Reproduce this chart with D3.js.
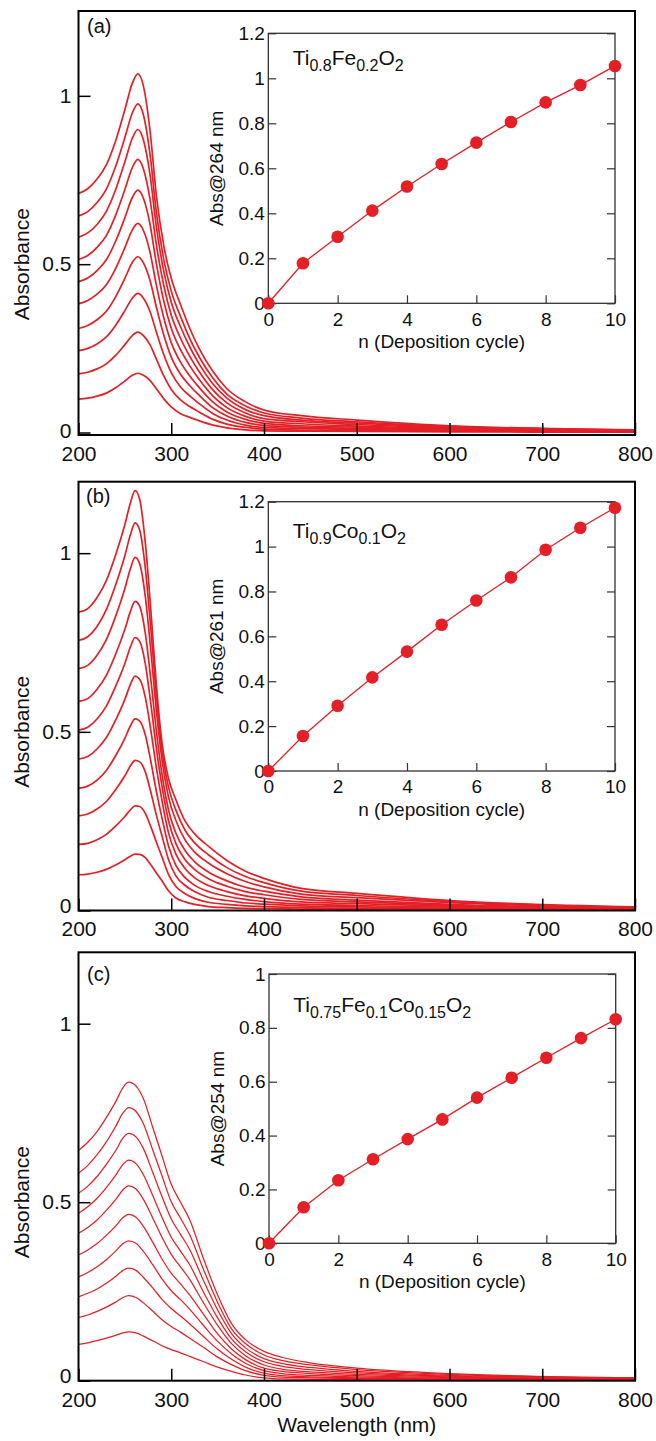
<!DOCTYPE html>
<html><head><meta charset="utf-8">
<script src="https://cdn.jsdelivr.net/npm/d3@7"></script>
<style>html,body{margin:0;padding:0;background:#fff;} svg{display:block;}</style>
</head><body>
<svg id="chart" width="656" height="1441"></svg>
<script>
// ---------------- DATA ----------------
const mainXTicks = [200, 300, 400, 500, 600, 700, 800];
const mainYTicks = [0, 0.5, 1];
const cycles = [0, 1, 2, 3, 4, 5, 6, 7, 8, 9, 10];
const insetXTicks = [0, 2, 4, 6, 8, 10];
const insetYTicks12 = [0, 0.2, 0.4, 0.6, 0.8, 1, 1.2];
const insetYTicks10 = [0, 0.2, 0.4, 0.6, 0.8, 1];

// (a) Ti0.8Fe0.2O2
const wavelengthsA = [200,210,220,230,240,250,258,264,270,277,284,292,300,310,320,330,345,360,380,400,440,500,600,800];
const spectraA = [
 [.099,.102,.108,.117,.133,.153,.170,.176,.170,.155,.130,.100,.076,.056,.045,.035,.022,.014,.008,.005,.004,.003,.002,.001],
 [.174,.179,.189,.204,.229,.261,.288,.298,.288,.261,.218,.168,.128,.097,.077,.061,.039,.025,.015,.010,.007,.006,.004,.002],
 [.243,.250,.263,.284,.318,.362,.399,.413,.399,.360,.298,.231,.178,.135,.109,.086,.056,.037,.022,.015,.012,.009,.005,.003],
 [.309,.318,.335,.360,.403,.458,.505,.522,.504,.453,.372,.289,.224,.173,.139,.111,.073,.049,.030,.021,.016,.012,.007,.003],
 [.382,.392,.411,.439,.487,.549,.602,.621,.600,.537,.437,.340,.267,.209,.168,.134,.090,.061,.039,.027,.020,.016,.009,.004],
 [.448,.459,.481,.513,.568,.638,.698,.720,.696,.620,.501,.390,.310,.246,.198,.158,.108,.074,.048,.034,.026,.019,.011,.004],
 [.514,.526,.550,.585,.645,.722,.787,.811,.783,.695,.557,.436,.349,.280,.226,.181,.126,.088,.058,.041,.032,.024,.013,.005],
 [.580,.593,.618,.657,.721,.804,.874,.900,.869,.768,.610,.478,.387,.314,.254,.204,.144,.102,.068,.050,.037,.028,.015,.006],
 [.643,.656,.683,.723,.790,.876,.949,.976,.943,.829,.653,.513,.420,.345,.279,.225,.161,.114,.079,.058,.043,.032,.018,.007],
 [.710,.724,.753,.795,.866,.959,1.037,1.065,1.029,.900,.703,.554,.458,.380,.309,.250,.181,.130,.091,.067,.050,.037,.020,.008]
];
const insetA = [0, 0.178, 0.296, 0.412, 0.519, 0.619, 0.714, 0.806, 0.893, 0.970, 1.055];
const formulaA = [["Ti",0],["0.8",1],["Fe",0],["0.2",1],["O",0],["2",1]];

// (b) Ti0.9Co0.1O2
const wavelengthsB = [200,210,220,230,240,250,256,261,266,272,278,284,290,297,305,315,325,340,360,380,400,440,500,600,800];
const spectraB = [
 [.100,.102,.107,.115,.127,.142,.152,.158,.157,.148,.128,.105,.083,.055,.035,.024,.017,.011,.008,.006,.005,.004,.003,.002,.001],
 [.185,.188,.198,.213,.236,.263,.282,.293,.291,.272,.234,.191,.150,.101,.067,.047,.034,.023,.017,.013,.011,.008,.006,.004,.002],
 [.265,.270,.284,.305,.338,.377,.405,.420,.416,.388,.331,.267,.209,.143,.097,.070,.053,.037,.028,.021,.018,.013,.010,.006,.003],
 [.342,.348,.365,.392,.433,.482,.517,.536,.530,.492,.417,.333,.259,.181,.126,.092,.071,.053,.040,.031,.025,.018,.014,.009,.003],
 [.424,.431,.452,.484,.533,.591,.633,.656,.647,.597,.504,.399,.308,.218,.158,.117,.092,.070,.053,.041,.034,.024,.019,.012,.004],
 [.505,.513,.536,.572,.627,.691,.738,.764,.753,.691,.578,.453,.348,.252,.187,.142,.115,.089,.068,.053,.044,.031,.024,.015,.005],
 [.585,.593,.619,.658,.717,.787,.837,.865,.851,.776,.646,.501,.382,.282,.216,.167,.137,.108,.083,.065,.054,.038,.029,.017,.006],
 [.677,.686,.714,.758,.823,.901,.957,.988,.970,.879,.727,.558,.423,.318,.252,.197,.164,.133,.103,.081,.066,.046,.036,.022,.008],
 [.756,.766,.795,.842,.911,.993,1.052,1.085,1.064,.959,.788,.597,.449,.346,.281,.224,.190,.156,.120,.095,.078,.054,.042,.025,.009],
 [.835,.845,.876,.923,.995,1.080,1.141,1.175,1.150,1.030,.840,.630,.470,.370,.310,.250,.215,.180,.140,.110,.090,.062,.048,.028,.010]
];
const insetB = [0, 0.156, 0.291, 0.417, 0.532, 0.652, 0.760, 0.863, 0.986, 1.084, 1.173];
const formulaB = [["Ti",0],["0.9",1],["Co",0],["0.1",1],["O",0],["2",1]];

// (c) Ti0.75Fe0.1Co0.15O2
const wavelengthsC = [200,210,220,230,240,248,254,262,270,280,290,300,310,320,335,350,365,380,400,420,450,500,600,800];
const spectraC = [
 [.102,.106,.112,.119,.127,.134,.137,.134,.125,.112,.098,.087,.078,.068,.053,.038,.026,.016,.008,.005,.004,.003,.002,.001],
 [.177,.184,.194,.206,.220,.233,.238,.233,.218,.195,.171,.152,.136,.119,.093,.066,.045,.028,.015,.010,.008,.006,.004,.002],
 [.235,.245,.257,.273,.292,.309,.315,.309,.289,.260,.228,.202,.181,.159,.123,.088,.060,.038,.021,.014,.011,.008,.005,.003],
 [.291,.303,.319,.339,.363,.384,.392,.385,.362,.325,.285,.252,.227,.200,.154,.110,.075,.049,.028,.020,.015,.011,.007,.003],
 [.352,.366,.384,.407,.433,.457,.466,.458,.432,.388,.341,.301,.271,.240,.185,.131,.089,.059,.035,.026,.020,.014,.009,.004],
 [.413,.429,.450,.477,.507,.535,.546,.537,.508,.456,.402,.354,.319,.283,.217,.155,.104,.070,.044,.032,.025,.018,.011,.005],
 [.469,.487,.511,.541,.575,.606,.618,.608,.577,.519,.458,.402,.363,.324,.247,.176,.117,.081,.053,.040,.031,.022,.013,.006],
 [.525,.545,.572,.606,.644,.680,.693,.683,.650,.584,.516,.453,.410,.367,.279,.198,.132,.092,.062,.048,.037,.026,.015,.007],
 [.581,.603,.633,.669,.712,.750,.765,.754,.720,.647,.574,.501,.455,.408,.310,.219,.145,.104,.072,.056,.044,.031,.018,.007],
 [.645,.668,.698,.737,.781,.821,.836,.825,.790,.710,.630,.550,.500,.450,.340,.240,.160,.115,.082,.065,.050,.035,.020,.008]
];
const insetC = [0, 0.134, 0.234, 0.312, 0.387, 0.460, 0.541, 0.615, 0.689, 0.762, 0.832];
const formulaC = [["Ti",0],["0.75",1],["Fe",0],["0.1",1],["Co",0],["0.15",1],["O",0],["2",1]];

const panelLabels = ["(a)", "(b)", "(c)"];
const insetYLabels = ["Abs@264 nm", "Abs@261 nm", "Abs@254 nm"];
const mainYLabel = "Absorbance";
const mainXLabel = "Wavelength (nm)";
const insetXLabel = "n (Deposition cycle)";

// ---------------- LAYOUT / DRAW ----------------
const RED = "#e41f26";
const FONT = "'Liberation Sans', Arial, Helvetica, sans-serif";
const svg = d3.select("#chart");

const panels = [
  {wl: wavelengthsA, spectra: spectraA, inset: insetA, formula: formulaA, yDomain: [-0.0074, 1.252],
   frame: {l: 78.5, r: 635, t: 11, b: 435}, inFrame: {l: 268.3, r: 615, t: 33.3, b: 303.3}, inMax: 1.2, inTicks: insetYTicks12,
   fPos: [292.7, 65], lPos: [87, 33], lw: 1.7, zeroDy: "0.26em"},
  {wl: wavelengthsB, spectra: spectraB, inset: insetB, formula: formulaB, yDomain: [0, 1.2],
   frame: {l: 78.5, r: 635, t: 481.7, b: 910.5}, inFrame: {l: 268.3, r: 615, t: 501.7, b: 771}, inMax: 1.2, inTicks: insetYTicks12,
   fPos: [292.7, 538.3], lPos: [86, 503], lw: 1.7, zeroDy: "0.08em"},
  {wl: wavelengthsC, spectra: spectraC, inset: insetC, formula: formulaC, yDomain: [0, 1.2],
   frame: {l: 78.5, r: 635, t: 952.3, b: 1380.7}, inFrame: {l: 269, r: 615.7, t: 974, b: 1243.3}, inMax: 1, inTicks: insetYTicks10,
   fPos: [293.3, 1011.7], lPos: [87, 981], lw: 1.25, zeroDy: "0.08em"}
];

const x = d3.scaleLinear().domain([200, 800]).range([78.5, 635]);

function styleAxis(sel, size, color, sw) {
  sel.select(".domain").remove();
  sel.attr("font-family", FONT).attr("font-size", size);
  sel.selectAll(".tick line").attr("stroke", color).attr("stroke-width", sw);
  sel.selectAll(".tick text").attr("fill", "#111");
}

panels.forEach((p, pi) => {
  const g = svg.append("g");
  const f = p.frame;
  const y = d3.scaleLinear().domain(p.yDomain).range([f.b, f.t]);

  const clipId = "clip" + pi;
  svg.append("clipPath").attr("id", clipId).append("rect")
    .attr("x", f.l).attr("y", f.t).attr("width", f.r - f.l).attr("height", f.b - f.t);

  const line = d3.line().x((d, i) => x(p.wl[i])).y(d => y(d)).curve(d3.curveMonotoneX);
  g.append("g").attr("clip-path", `url(#${clipId})`)
    .selectAll("path").data(p.spectra).join("path")
    .attr("d", line).attr("fill", "none").attr("stroke", RED)
    .attr("stroke-width", p.lw).attr("stroke-linejoin", "round");

  g.append("g").attr("transform", `translate(0,${f.b})`)
    .call(d3.axisBottom(x).tickValues(mainXTicks).tickSize(-12).tickPadding(11).tickFormat(d => String(d)))
    .call(styleAxis, 21, "#000", 1.5);
  g.append("g").attr("transform", `translate(${f.l},0)`)
    .call(d3.axisLeft(y).tickValues(mainYTicks).tickSize(-12).tickPadding(7).tickFormat(d => String(d)))
    .call(styleAxis, 21, "#000", 1.5)
    .call(s => s.selectAll(".tick text").attr("dy", d => d === 0 ? p.zeroDy : "0.3em"));

  g.append("rect").attr("x", f.l).attr("y", f.t).attr("width", f.r - f.l).attr("height", f.b - f.t)
    .attr("fill", "none").attr("stroke", "#000").attr("stroke-width", 2);

  g.append("text").attr("transform", `translate(29,${y(0.5)}) rotate(-90)`)
    .attr("text-anchor", "middle").attr("font-family", FONT).attr("font-size", 21).attr("fill", "#111")
    .text(mainYLabel);

  g.append("text").attr("x", p.lPos[0]).attr("y", p.lPos[1])
    .attr("font-family", FONT).attr("font-size", 20).attr("fill", "#111").text(panelLabels[pi]);

  // ---- inset ----
  const q = p.inFrame;
  const xi = d3.scaleLinear().domain([0, 10]).range([q.l, q.r]);
  const yi = d3.scaleLinear().domain([0, p.inMax]).range([q.b, q.t]);
  const ig = g.append("g");

  ig.append("g").attr("transform", `translate(0,${q.b})`)
    .call(d3.axisBottom(xi).tickValues(insetXTicks).tickSize(-8).tickPadding(9).tickFormat(d => String(d)))
    .call(styleAxis, 19, "#333", 1.2);
  ig.append("g").attr("transform", `translate(${q.l},0)`)
    .call(d3.axisLeft(yi).tickValues(p.inTicks).tickSize(-8).tickPadding(3.5).tickFormat(d => String(d)))
    .call(styleAxis, 19, "#333", 1.2);
  ig.append("g").attr("transform", `translate(${q.r},0)`)
    .call(d3.axisRight(yi).tickValues(p.inTicks).tickSize(-8).tickFormat(""))
    .call(styleAxis, 19, "#333", 1.2);

  ig.append("rect").attr("x", q.l).attr("y", q.t).attr("width", q.r - q.l).attr("height", q.b - q.t)
    .attr("fill", "none").attr("stroke", "#333").attr("stroke-width", 1.3);

  const iline = d3.line().x((d, i) => xi(cycles[i])).y(d => yi(d));
  ig.append("path").datum(p.inset).attr("d", iline).attr("fill", "none")
    .attr("stroke", RED).attr("stroke-width", 1.3);
  ig.selectAll("circle").data(p.inset).join("circle")
    .attr("cx", (d, i) => xi(cycles[i])).attr("cy", d => yi(d)).attr("r", 6.3).attr("fill", RED);

  ig.append("text").attr("x", (q.l + q.r) / 2).attr("y", q.b + 45)
    .attr("text-anchor", "middle").attr("font-family", FONT).attr("font-size", 19).attr("fill", "#111")
    .text(insetXLabel);
  ig.append("text").attr("transform", `translate(${q.l - 45.5},${(q.t + q.b) / 2}) rotate(-90)`)
    .attr("text-anchor", "middle").attr("font-family", FONT).attr("font-size", 19).attr("fill", "#111")
    .text(insetYLabels[pi]);

  const ft = ig.append("text").attr("x", p.fPos[0]).attr("y", p.fPos[1])
    .attr("font-family", FONT).attr("font-size", 21).attr("fill", "#111");
  let prevSub = 0;
  p.formula.forEach(([t, sub]) => {
    const dy = (sub ? 6 : 0) - (prevSub ? 6 : 0);
    ft.append("tspan").attr("dy", dy).attr("font-size", sub ? 16 : 21).text(t);
    prevSub = sub;
  });
});

svg.append("text").attr("x", (78.5 + 635) / 2).attr("y", 1432)
  .attr("text-anchor", "middle").attr("font-family", FONT).attr("font-size", 21).attr("fill", "#111")
  .text(mainXLabel);
</script>
</body></html>
